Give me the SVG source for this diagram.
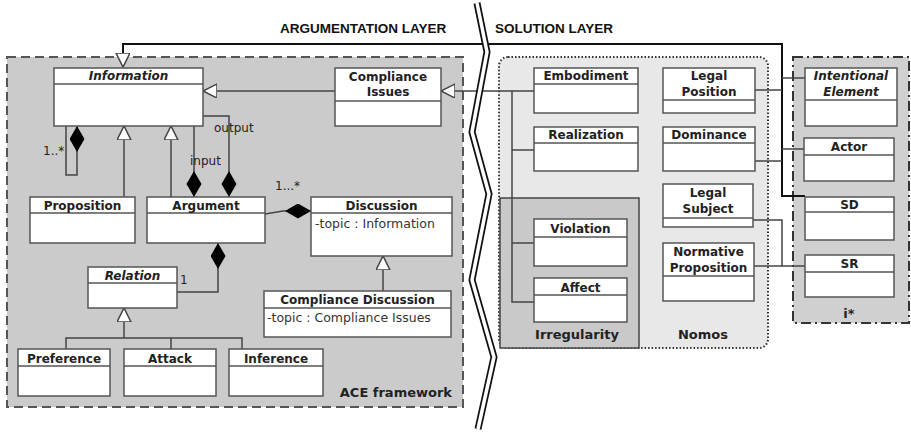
<svg xmlns="http://www.w3.org/2000/svg" width="911" height="432" viewBox="0 0 911 432">
<style>
.box{fill:#fff;stroke:#555;stroke-width:1.5}
.dv{stroke:#555;stroke-width:1.5}
.t{font-family:"DejaVu Sans",sans-serif;font-size:12px;font-weight:bold;fill:#222;text-anchor:middle}
.it{font-style:italic}
.at{font-family:"DejaVu Sans",sans-serif;font-size:12.5px;fill:#333}
.lbl{font-family:"DejaVu Sans",sans-serif;font-size:12px;fill:#222}
.fr{font-family:"DejaVu Sans",sans-serif;font-size:13px;font-weight:bold;fill:#222}
.hd{font-family:"Liberation Sans",Arial,sans-serif;font-size:13.5px;font-weight:bold;fill:#111}
.c{fill:none;stroke:#444;stroke-width:1.5}
.ct{fill:none;stroke:#111;stroke-width:2}
</style>
<defs>
<marker id="tri" markerUnits="userSpaceOnUse" markerWidth="16" markerHeight="16" refX="14" refY="7" orient="auto" viewBox="0 0 16 16">
<path d="M0,0 L14,7 L0,14 z" fill="#fff" stroke="#444" stroke-width="1.5"/>
</marker>
<marker id="dia" markerUnits="userSpaceOnUse" markerWidth="28" markerHeight="16" refX="26" refY="7.5" orient="auto" viewBox="0 0 28 16">
<path d="M0,7.5 L13,0 L26,7.5 L13,15 z" fill="#000"/>
</marker>
</defs>
<rect width="911" height="432" fill="#fff"/>

<!-- frames -->
<g id="ace-frame">
<rect x="7" y="57" width="456" height="350" fill="#cbcbcb" stroke="#555" stroke-width="2" stroke-dasharray="9,5"/>
<text class="fr" x="452" y="397" text-anchor="end">ACE framework</text>
</g>
<g id="nomos-frame">
<rect x="499" y="57" width="269" height="291" rx="9" fill="#e8e8e8" stroke="#333" stroke-width="2" stroke-dasharray="1.5,2"/>
<text class="fr" x="728" y="339" text-anchor="end">Nomos</text>
</g>
<g id="irregularity-frame">
<rect x="500" y="198" width="139" height="150" fill="#c9c9c9" stroke="#444" stroke-width="1.5"/>
<text class="fr" x="577" y="339" text-anchor="middle">Irregularity</text>
</g>
<g id="istar-frame">
<rect x="793" y="57" width="116" height="266" fill="#d0d0d0" stroke="#333" stroke-width="2" stroke-dasharray="10,4,2,4"/>
<text class="fr" x="849" y="318" text-anchor="middle">i*</text>
</g>

<!-- connectors -->
<g id="connectors">
<path class="ct" d="M805,196 L782,196 L782,44 L123,44 L123,67" marker-end="url(#tri)"/>
<path class="c" d="M335,91 L203,91" marker-end="url(#tri)"/>
<path class="c" d="M534,91 L441,91" marker-end="url(#tri)"/>
<path class="c" d="M512,91 L512,302 L534,302"/>
<path class="c" d="M512,150 L534,150"/>
<path class="c" d="M512,243 L534,243"/>
<path class="c" d="M124,197 L124,126" marker-end="url(#tri)"/>
<path class="c" d="M171,197 L171,126" marker-end="url(#tri)"/>
<path class="c" d="M66,126 L66,175 L77,175 L77,126" marker-end="url(#dia)"/>
<path class="c" d="M194,126 L194,197" marker-end="url(#dia)"/>
<path class="c" d="M203,116 L229,116 L229,197" marker-end="url(#dia)"/>
<path class="c" d="M265,214 L283,211 L311,211" marker-end="url(#dia)"/>
<path class="c" d="M383,291 L383,256" marker-end="url(#tri)"/>
<path class="c" d="M177,292 L218,292 L218,243" marker-end="url(#dia)"/>
<path class="c" d="M124,338 L124,308" marker-end="url(#tri)"/>
<path class="c" d="M66,349 L66,338 L242,338 L242,349 M171,338 L171,349"/>
<path class="c" d="M755,90 L782,90"/>
<path class="c" d="M782,78 L805,78"/>
<path class="c" d="M755,161 L782,161"/>
<path class="c" d="M782,149 L804,149"/>
<path class="c" d="M753,220 L782,220 L782,266 L805,266"/>
<path class="c" d="M754,266 L782,266"/>
<text class="lbl" x="43" y="155">1..*</text>
<text class="lbl" x="190" y="165" font-size="13">input</text>
<text class="lbl" x="214" y="132" font-size="13">output</text>
<text class="lbl" x="275" y="190">1...*</text>
<text class="lbl" x="180" y="284">1</text>
</g>

<!-- ACE nodes -->
<g id="information"><rect class="box" x="54" y="68" width="149" height="58"/><line class="dv" x1="54" y1="84" x2="203" y2="84"/><text class="t it" x="128.5" y="80">Information</text></g>
<g id="compliance-issues"><rect class="box" x="335" y="68" width="106" height="58"/><line class="dv" x1="335" y1="101" x2="441" y2="101"/><text class="t" x="388" y="81">Compliance</text><text class="t" x="388" y="96">Issues</text></g>
<g id="proposition"><rect class="box" x="30" y="197" width="105" height="46"/><line class="dv" x1="30" y1="213" x2="135" y2="213"/><text class="t" x="82.5" y="210">Proposition</text></g>
<g id="argument"><rect class="box" x="147" y="197" width="118" height="46"/><line class="dv" x1="147" y1="213" x2="265" y2="213"/><text class="t" x="206" y="210">Argument</text></g>
<g id="discussion"><rect class="box" x="311" y="197" width="141" height="59"/><line class="dv" x1="311" y1="213" x2="452" y2="213"/><text class="t" x="381.5" y="210">Discussion</text><text class="at" x="315" y="228">-topic : Information</text></g>
<g id="compliance-discussion"><rect class="box" x="264" y="291" width="187" height="46"/><line class="dv" x1="264" y1="308" x2="451" y2="308"/><text class="t" x="357.5" y="304">Compliance Discussion</text><text class="at" x="267" y="322">-topic : Compliance Issues</text></g>
<g id="relation"><rect class="box" x="88" y="267" width="89" height="41"/><line class="dv" x1="88" y1="283" x2="177" y2="283"/><text class="t it" x="132.5" y="280">Relation</text></g>
<g id="preference"><rect class="box" x="18" y="349" width="92" height="47"/><line class="dv" x1="18" y1="366" x2="110" y2="366"/><text class="t" x="64" y="363">Preference</text></g>
<g id="attack"><rect class="box" x="124" y="349" width="92" height="47"/><line class="dv" x1="124" y1="366" x2="216" y2="366"/><text class="t" x="170" y="363">Attack</text></g>
<g id="inference"><rect class="box" x="229" y="349" width="94" height="47"/><line class="dv" x1="229" y1="366" x2="323" y2="366"/><text class="t" x="276" y="363">Inference</text></g>

<!-- Nomos nodes -->
<g id="embodiment"><rect class="box" x="534" y="68" width="104" height="45"/><line class="dv" x1="534" y1="84" x2="638" y2="84"/><text class="t" x="586" y="80">Embodiment</text></g>
<g id="realization"><rect class="box" x="534" y="127" width="104" height="44"/><line class="dv" x1="534" y1="143" x2="638" y2="143"/><text class="t" x="586" y="139">Realization</text></g>
<g id="violation"><rect class="box" x="534" y="219" width="93" height="47"/><line class="dv" x1="534" y1="237" x2="627" y2="237"/><text class="t" x="580.5" y="233">Violation</text></g>
<g id="affect"><rect class="box" x="534" y="278" width="93" height="44"/><line class="dv" x1="534" y1="295" x2="627" y2="295"/><text class="t" x="580.5" y="292">Affect</text></g>
<g id="legal-position"><rect class="box" x="663" y="68" width="92" height="45"/><line class="dv" x1="663" y1="100" x2="755" y2="100"/><text class="t" x="709" y="80">Legal</text><text class="t" x="709" y="96">Position</text></g>
<g id="dominance"><rect class="box" x="663" y="127" width="92" height="44"/><line class="dv" x1="663" y1="143" x2="755" y2="143"/><text class="t" x="709" y="139">Dominance</text></g>
<g id="legal-subject"><rect class="box" x="663" y="184" width="90" height="43"/><line class="dv" x1="663" y1="218" x2="753" y2="218"/><text class="t" x="708" y="197">Legal</text><text class="t" x="708" y="213">Subject</text></g>
<g id="normative-proposition"><rect class="box" x="663" y="243" width="91" height="58"/><line class="dv" x1="663" y1="276" x2="754" y2="276"/><text class="t" x="708.5" y="256">Normative</text><text class="t" x="708.5" y="272">Proposition</text></g>

<!-- i* nodes -->
<g id="intentional-element"><rect class="box" x="805" y="68" width="92" height="58"/><line class="dv" x1="805" y1="100" x2="897" y2="100"/><text class="t it" x="851" y="80">Intentional</text><text class="t it" x="851" y="96">Element</text></g>
<g id="actor"><rect class="box" x="804" y="138" width="90" height="43"/><line class="dv" x1="804" y1="155" x2="894" y2="155"/><text class="t" x="849" y="151">Actor</text></g>
<g id="sd"><rect class="box" x="805" y="197" width="89" height="43"/><line class="dv" x1="805" y1="212" x2="894" y2="212"/><text class="t" x="849.5" y="209">SD</text></g>
<g id="sr"><rect class="box" x="805" y="255" width="89" height="42"/><line class="dv" x1="805" y1="272" x2="894" y2="272"/><text class="t" x="849.5" y="268">SR</text></g>

<!-- layer headers and break -->
<g id="layers">
<text class="hd" x="280" y="33">ARGUMENTATION LAYER</text>
<text class="hd" x="495" y="33">SOLUTION LAYER</text>
<polyline points="477,3 487,52 472,132 489,194 472,280 494,357 478,429" fill="none" stroke="#111" stroke-width="7" stroke-linejoin="miter"/>
<polyline points="477,3 487,52 472,132 489,194 472,280 494,357 478,429" fill="none" stroke="#fff" stroke-width="3.5" stroke-linejoin="miter"/>
</g>
</svg>
